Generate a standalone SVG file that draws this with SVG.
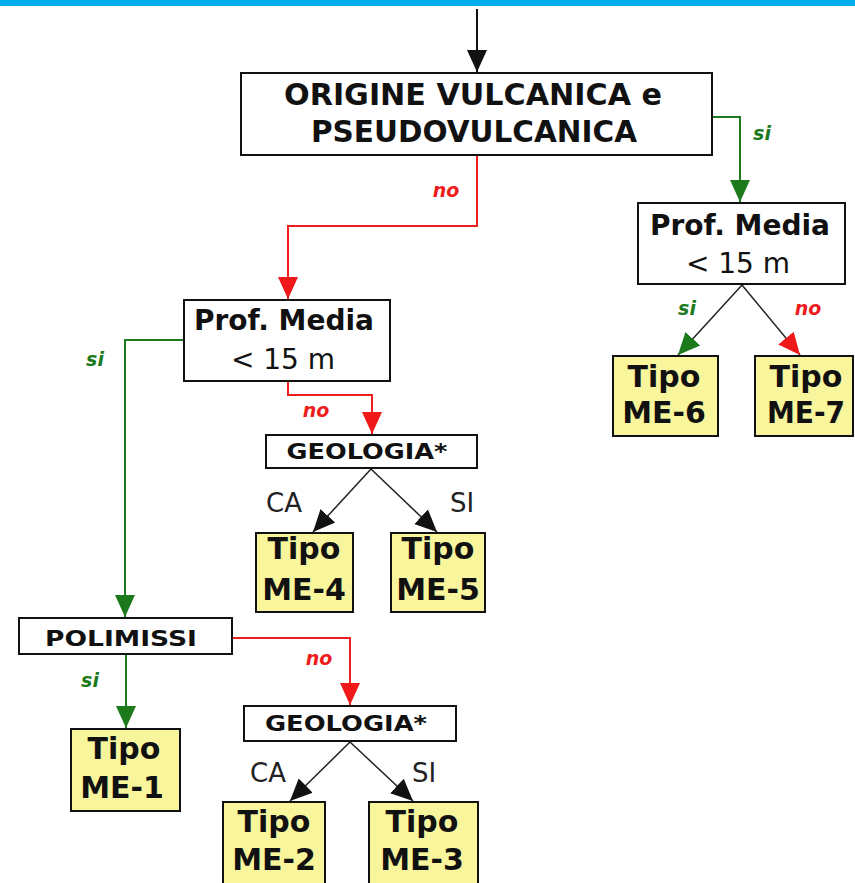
<svg xmlns="http://www.w3.org/2000/svg" width="855" height="883" viewBox="0 0 855 883">
<style>
.box{fill:#fff;stroke:#111;stroke-width:2}
.tipo{fill:#F8F59C;stroke:#111;stroke-width:2}
.t{font-family:"DejaVu Sans","Liberation Sans",sans-serif;fill:#111;text-anchor:middle}
.b{font-weight:bold}
.big{font-size:30px;font-weight:bold}
.pm{font-size:28px}
.lab{font-family:"DejaVu Sans","Liberation Sans",sans-serif;font-size:19px;font-weight:bold;font-style:italic;text-anchor:middle}
.thin{font-family:"DejaVu Sans","Liberation Sans",sans-serif;font-size:26px;fill:#222;text-anchor:middle;font-weight:normal}
.red{stroke:#EE1C1C;stroke-width:2;fill:none}
.grn{stroke:#1C7A1C;stroke-width:2;fill:none}
.blk{stroke:#111;stroke-width:2;fill:none}
.dia{stroke:#222;stroke-width:1.5;fill:none}
</style>
<defs>
<marker id="ak" markerUnits="userSpaceOnUse" markerWidth="22" markerHeight="22" refX="22" refY="11" orient="auto"><path d="M0,1 L22,11 L0,21 z" fill="#111"/></marker>
<marker id="ar" markerUnits="userSpaceOnUse" markerWidth="22" markerHeight="22" refX="22" refY="11" orient="auto"><path d="M0,1 L22,11 L0,21 z" fill="#F01818"/></marker>
<marker id="ag" markerUnits="userSpaceOnUse" markerWidth="22" markerHeight="22" refX="22" refY="11" orient="auto"><path d="M0,1 L22,11 L0,21 z" fill="#1C7A1C"/></marker>
</defs>
<rect x="0" y="0" width="855" height="6" fill="#00AEEF"/>

<g id="connectors">
<path class="blk" d="M477,9 V72" marker-end="url(#ak)"/>
<path class="red" d="M477,156 V226 H288 V299" marker-end="url(#ar)"/>
<path class="grn" d="M713,117 H740 V202" marker-end="url(#ag)"/>
<path class="dia" d="M742,285 L678,355" marker-end="url(#ag)" stroke="#1C7A1C"/>
<path class="dia" d="M742,285 L800,355" marker-end="url(#ar)" stroke="#EE1C1C"/>
<path class="grn" d="M184,340 H125 V617" marker-end="url(#ag)"/>
<path class="red" d="M288,382 V395 H372 V434" marker-end="url(#ar)"/>
<path class="dia" d="M371,469 L313,532" marker-end="url(#ak)"/>
<path class="dia" d="M371,469 L437,532" marker-end="url(#ak)"/>
<path class="grn" d="M126,655 V728" marker-end="url(#ag)"/>
<path class="red" d="M233,638 H350 V705" marker-end="url(#ar)"/>
<path class="dia" d="M350,742 L290,801" marker-end="url(#ak)"/>
<path class="dia" d="M350,742 L413,801" marker-end="url(#ak)"/>
<text class="lab" x="446" y="197" fill="#EE1C1C">no</text>
<text class="lab" x="762" y="140" fill="#1C7A1C">si</text>
<text class="lab" x="687" y="315" fill="#1C7A1C">si</text>
<text class="lab" x="808" y="315" fill="#EE1C1C">no</text>
<text class="lab" x="95" y="366" fill="#1C7A1C">si</text>
<text class="lab" x="316" y="417" fill="#EE1C1C">no</text>
<text class="lab" x="90" y="687" fill="#1C7A1C">si</text>
<text class="lab" x="319" y="665" fill="#EE1C1C">no</text>
<text class="thin" x="284" y="512">CA</text>
<text class="thin" x="462" y="512">SI</text>
<text class="thin" x="268" y="782">CA</text>
<text class="thin" x="424" y="782">SI</text>
</g>

<g id="origine">
<rect class="box" x="241" y="73" width="471" height="82"/>
<text class="t b" x="473" y="105" font-size="30" textLength="378" lengthAdjust="spacingAndGlyphs">ORIGINE VULCANICA e</text>
<text class="t b" x="474" y="142" font-size="30" textLength="326" lengthAdjust="spacingAndGlyphs">PSEUDOVULCANICA</text>
</g>

<g id="prof-right">
<rect class="box" x="638" y="203" width="207" height="81"/>
<text class="t pm b" x="740" y="235">Prof. Media</text>
<text class="t pm" x="738" y="273">&lt; 15 m</text>
</g>

<g id="me6">
<rect class="tipo" x="613" y="356" width="105" height="80"/>
<text class="t big" x="664" y="387">Tipo</text>
<text class="t big" x="664" y="423">ME-6</text>
</g>
<g id="me7">
<rect class="tipo" x="755" y="356" width="98" height="80"/>
<text class="t big" x="806" y="387">Tipo</text>
<text class="t big" x="806" y="423" textLength="78" lengthAdjust="spacingAndGlyphs">ME-7</text>
</g>

<g id="prof-left">
<rect class="box" x="184" y="300" width="206" height="81"/>
<text class="t pm b" x="284" y="330">Prof. Media</text>
<text class="t pm" x="283" y="369">&lt; 15 m</text>
</g>

<g id="geologia1">
<rect class="box" x="266" y="435" width="211" height="33"/>
<text class="t b" x="367" y="459" font-size="22" textLength="161" lengthAdjust="spacingAndGlyphs">GEOLOGIA*</text>
</g>

<g id="me4">
<rect class="tipo" x="256" y="533" width="97" height="79"/>
<text class="t big" x="304" y="559">Tipo</text>
<text class="t big" x="304" y="600">ME-4</text>
</g>
<g id="me5">
<rect class="tipo" x="391" y="533" width="94" height="79"/>
<text class="t big" x="438" y="559">Tipo</text>
<text class="t big" x="438" y="600">ME-5</text>
</g>

<g id="polimissi">
<rect class="box" x="19" y="618" width="213" height="36"/>
<text class="t b" x="121" y="646" font-size="22" textLength="152" lengthAdjust="spacingAndGlyphs">POLIMISSI</text>
</g>

<g id="me1">
<rect class="tipo" x="71" y="729" width="109" height="82"/>
<text class="t big" x="124" y="759">Tipo</text>
<text class="t big" x="122" y="798">ME-1</text>
</g>

<g id="geologia2">
<rect class="box" x="244" y="706" width="212" height="35"/>
<text class="t b" x="346" y="731" font-size="22" textLength="162" lengthAdjust="spacingAndGlyphs">GEOLOGIA*</text>
</g>

<g id="me2">
<rect class="tipo" x="223" y="802" width="102" height="82"/>
<text class="t big" x="274" y="832">Tipo</text>
<text class="t big" x="274" y="870">ME-2</text>
</g>
<g id="me3">
<rect class="tipo" x="369" y="802" width="109" height="82"/>
<text class="t big" x="422" y="832">Tipo</text>
<text class="t big" x="422" y="870">ME-3</text>
</g>
</svg>
